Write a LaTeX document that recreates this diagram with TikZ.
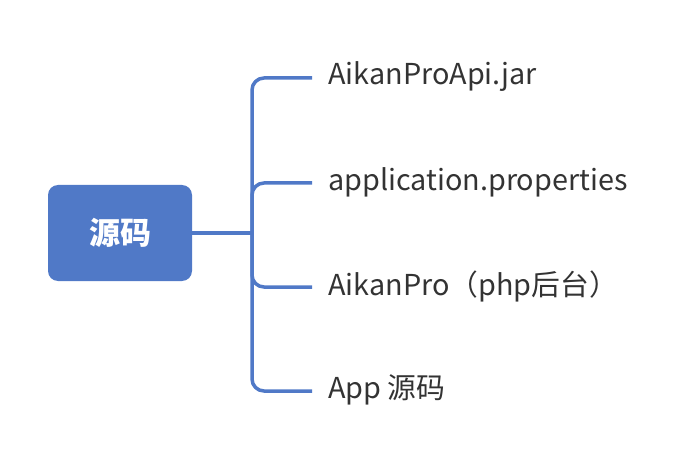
\documentclass[tikz,border=0pt]{standalone}
\usepackage{fontspec}
\setmainfont{Noto Sans CJK SC}
\usetikzlibrary{positioning}
\definecolor{mapblue}{RGB}{80,121,199}
\definecolor{leaftext}{RGB}{51,51,51}
\tikzset{
  root/.style={fill=mapblue,draw=none,rounded corners=10pt,minimum width=144pt,minimum height=96pt,text=white,font=\bfseries\fontsize{31}{36}\selectfont},
  leaf/.style={anchor=west,inner sep=0pt,text=leaftext,font=\fontsize{28.8}{33}\selectfont},
  branch/.style={draw=mapblue,line width=3.5pt,rounded corners=12pt}
}
\begin{document}
\begin{tikzpicture}[x=1pt,y=-1pt]
	\useasboundingbox (0,0) rectangle (686,468);
	% the root
	\node[root] (src) at (120,233) {源码};
	%% the leaves
	\node[leaf] (jar) at (328,77) {AikanProApi.jar};
	\node[leaf] (props) at (328,182) {application.properties};
	\node[leaf] (php) at (328,286) {AikanPro（php后台）};
	\node[leaf] (app) at (328,390) {App 源码};
	% the connectors
	\draw[branch] (src.east) -- (252,233) coordinate (fork);
	\draw[branch,shorten >=16pt] (fork) |- ([yshift=-1pt]jar.west);
	\draw[branch,shorten >=16pt] (fork) |- ([yshift=-1pt]props.west);
	\draw[branch,shorten >=16pt] (fork) |- ([yshift=-1pt]php.west);
	\draw[branch,shorten >=16pt] (fork) |- ([yshift=-1pt]app.west);
\end{tikzpicture}
\end{document}
